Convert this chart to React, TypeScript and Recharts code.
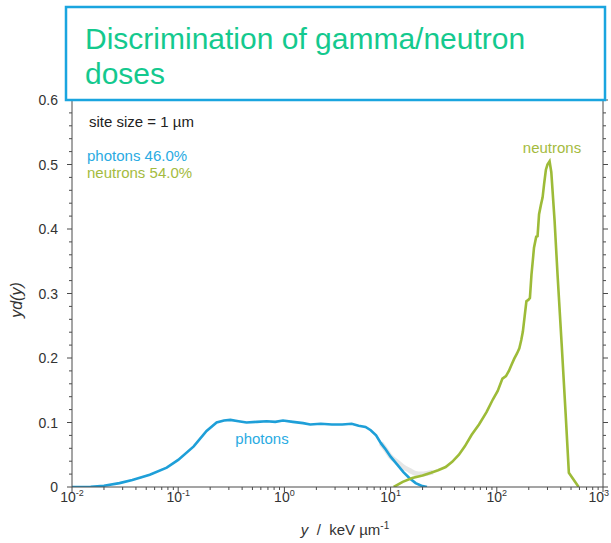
import React from 'react';
import { LineChart, Line, XAxis, YAxis } from 'recharts';

// Microdosimetric spectra yd(y) for a 1 µm site
const photonsX = [0.01, 0.015, 0.02, 0.028, 0.037, 0.054, 0.078, 0.1, 0.14, 0.185, 0.23, 0.27, 0.31, 0.37, 0.44, 0.55, 0.68, 0.82, 0.97, 1.2, 1.5, 1.75, 2.2, 2.8, 3.5, 4.3, 5.0, 5.8, 6.5, 7.3, 8.1, 9.0, 10, 11.5, 13.2, 15, 17.2, 19.5, 22];
const photonsY = [0, 0.0005, 0.002, 0.006, 0.011, 0.019, 0.03, 0.042, 0.063, 0.087, 0.1, 0.103, 0.104, 0.102, 0.1, 0.101, 0.102, 0.101, 0.103, 0.101, 0.099, 0.097, 0.098, 0.097, 0.097, 0.098, 0.095, 0.093, 0.088, 0.08, 0.068, 0.058, 0.047, 0.035, 0.023, 0.014, 0.006, 0.002, 0];

const neutronsX = [10.7, 13, 16, 20, 24, 28, 33, 38, 44, 50, 58, 68, 80, 92, 102, 113, 122, 130, 138, 146, 155, 163, 170, 176, 183, 190, 198, 205, 212, 218, 224, 235, 242, 250, 260, 270, 279, 290, 300, 314, 326, 350, 373, 408, 445, 477, 590];
const neutronsY = [0, 0.008, 0.014, 0.018, 0.022, 0.026, 0.031, 0.039, 0.05, 0.063, 0.081, 0.097, 0.116, 0.136, 0.149, 0.168, 0.172, 0.18, 0.19, 0.199, 0.207, 0.215, 0.228, 0.241, 0.265, 0.288, 0.29, 0.293, 0.329, 0.35, 0.371, 0.388, 0.389, 0.423, 0.437, 0.449, 0.47, 0.492, 0.5, 0.505, 0.488, 0.413, 0.33, 0.222, 0.113, 0.022, 0];

// Sum of both components where they overlap
const totalX = [8.1, 9, 10, 11.5, 13.2, 15, 17.2, 19.5, 22, 25];
const totalY = [0.068, 0.058, 0.047, 0.039, 0.031, 0.026, 0.021, 0.02, 0.021, 0.023];

const xMajorTicks = [0.01, 0.1, 1, 10, 100, 1000];
const xTickExponents = ['-2', '-1', '0', '1', '2', '3'];
const yMajorTicks = [0, 0.1, 0.2, 0.3, 0.4, 0.5, 0.6];
const yTickLabels = ['0', '0.1', '0.2', '0.3', '0.4', '0.5', '0.6'];

const photonsData = photonsX.map((x, i) => ({ x, v: photonsY[i] }));
const neutronsData = neutronsX.map((x, i) => ({ x, v: neutronsY[i] }));
const totalData = totalX.map((x, i) => ({ x, v: totalY[i] }));

const xAllTicks: number[] = [];
xMajorTicks.forEach((d, i) => {
  xAllTicks.push(d);
  if (i < xMajorTicks.length - 1) {
    for (let k = 2; k <= 9; k++) xAllTicks.push(d * k);
  }
});

const yAllTicks: number[] = [];
yMajorTicks.forEach((d, i) => {
  yAllTicks.push(d);
  if (i < yMajorTicks.length - 1) {
    for (let k = 1; k <= 4; k++) yAllTicks.push(Math.round((d + k * 0.02) * 100) / 100);
  }
});

const FONT = '"Liberation Sans", Arial, Helvetica, sans-serif';
const AXIS = '#4a4a4a';
const PHOTON = '#1e9fd8';
const NEUTRON = '#9dbb38';

const xMajorIndex = (v: number) =>
  xMajorTicks.findIndex((t) => Math.abs(Math.log10(t) - Math.log10(v)) < 1e-6);
const yIsMajor = (v: number) => Math.abs(v * 10 - Math.round(v * 10)) < 1e-6;

const BottomTick = (props: any) => {
  const { x, y, payload } = props;
  const idx = xMajorIndex(payload.value);
  const major = idx >= 0;
  const last = idx === xMajorTicks.length - 1;
  return (
    <g>
      <line x1={x} y1={y} x2={x} y2={y + (major ? 5 : 3)} stroke={AXIS} strokeWidth={1} />
      {major && (
        <text
          x={last ? x + 6 : x}
          y={y + 15}
          textAnchor={last ? 'end' : 'middle'}
          fontSize={14}
          fill="#333"
          fontFamily={FONT}
        >
          10
          <tspan dy={-6} fontSize={9}>
            {xTickExponents[idx]}
          </tspan>
        </text>
      )}
    </g>
  );
};

const TopTick = (props: any) => {
  const { x, y, payload } = props;
  const major = xMajorIndex(payload.value) >= 0;
  return <line x1={x} y1={y} x2={x} y2={y - (major ? 5 : 3)} stroke={AXIS} strokeWidth={1} />;
};

const LeftTick = (props: any) => {
  const { x, y, payload } = props;
  const major = yIsMajor(payload.value);
  const idx = yMajorTicks.findIndex((t) => Math.abs(t - payload.value) < 1e-6);
  return (
    <g>
      <line x1={x} y1={y} x2={x - (major ? 5 : 3)} y2={y} stroke={AXIS} strokeWidth={1} />
      {major && idx >= 0 && (
        <text x={x - 14} y={y + 5} textAnchor="end" fontSize={14} fill="#333" fontFamily={FONT}>
          {yTickLabels[idx]}
        </text>
      )}
    </g>
  );
};

const RightTick = (props: any) => {
  const { x, y, payload } = props;
  const major = yIsMajor(payload.value);
  return <line x1={x} y1={y} x2={x + (major ? 5 : 3)} y2={y} stroke={AXIS} strokeWidth={1} />;
};

export default function App() {
  return (
    <div style={{ position: 'absolute', left: 0, top: 0, width: 611, height: 543, background: '#fff', overflow: 'hidden' }}>
      <LineChart width={611} height={543} margin={{ top: 100, right: 0, bottom: 0, left: 0 }}>
        <XAxis
          xAxisId="bottom"
          dataKey="x"
          type="number"
          scale="log"
          domain={[0.01, 1000]}
          allowDataOverflow
          ticks={xAllTicks}
          interval={0}
          tickSize={0}
          tickMargin={0}
          tickLine={false}
          tick={<BottomTick />}
          height={56}
          axisLine={{ stroke: AXIS, strokeWidth: 1 }}
        />
        <XAxis
          xAxisId="top"
          orientation="top"
          dataKey="x"
          type="number"
          scale="log"
          domain={[0.01, 1000]}
          allowDataOverflow
          ticks={xAllTicks}
          interval={0}
          tickSize={0}
          tickMargin={0}
          tickLine={false}
          tick={<TopTick />}
          height={0}
          axisLine={{ stroke: AXIS, strokeWidth: 1 }}
        />
        <YAxis
          yAxisId="left"
          type="number"
          domain={[0, 0.6]}
          allowDataOverflow
          ticks={yAllTicks}
          interval={0}
          tickSize={0}
          tickMargin={0}
          tickLine={false}
          tick={<LeftTick />}
          width={72}
          axisLine={{ stroke: AXIS, strokeWidth: 1 }}
        />
        <YAxis
          yAxisId="right"
          orientation="right"
          type="number"
          domain={[0, 0.6]}
          allowDataOverflow
          ticks={yAllTicks}
          interval={0}
          tickSize={0}
          tickMargin={0}
          tickLine={false}
          tick={<RightTick />}
          width={8}
          axisLine={{ stroke: AXIS, strokeWidth: 1 }}
        />
        <Line
          data={totalData}
          dataKey="v"
          xAxisId="bottom"
          yAxisId="left"
          type="monotone"
          stroke="#d6d6d6"
          strokeOpacity={0.6}
          strokeWidth={5}
          dot={false}
          isAnimationActive={false}
        />
        <Line
          data={photonsData}
          dataKey="v"
          xAxisId="bottom"
          yAxisId="left"
          type="linear"
          stroke={PHOTON}
          strokeWidth={2.6}
          dot={false}
          isAnimationActive={false}
        />
        <Line
          data={neutronsData}
          dataKey="v"
          xAxisId="bottom"
          yAxisId="left"
          type="linear"
          stroke={NEUTRON}
          strokeWidth={2.6}
          dot={false}
          isAnimationActive={false}
        />
      </LineChart>
      <svg
        width={611}
        height={543}
        style={{ position: 'absolute', left: 0, top: 0, pointerEvents: 'none' }}
        fontFamily={FONT}
      >
        <rect x={66} y={7} width={539} height={93} fill="none" stroke="#1aa5df" strokeWidth={2.5} />
        <text x={85} y={49} fontSize={30} fill="#14c98e">Discrimination of gamma/neutron</text>
        <text x={85} y={84} fontSize={30} fill="#14c98e">doses</text>

        <text x={89} y={127} fontSize={15} fill="#222">site size = 1 µm</text>
        <text x={87} y={161} fontSize={15} fill="#2aabe2">photons 46.0%</text>
        <text x={87} y={178} fontSize={15} fill="#a4bb3e">neutrons 54.0%</text>

        <text x={262} y={444} fontSize={15} fill="#2aabe2" textAnchor="middle">photons</text>
        <text x={552} y={153} fontSize={15} fill="#a4bb3e" textAnchor="middle">neutrons</text>

        <text
          x={22}
          y={300}
          fontSize={16}
          fill="#333"
          fontStyle="italic"
          textAnchor="middle"
          transform="rotate(-90 22 300)"
        >
          yd(y)
        </text>
        <text x={345} y={535} fontSize={15} fill="#333" textAnchor="middle">
          <tspan fontStyle="italic">y</tspan>
          {'\u00a0\u00a0/\u00a0\u00a0keV µm'}
          <tspan dy={-6} fontSize={10}>-1</tspan>
        </text>
      </svg>
    </div>
  );
}
